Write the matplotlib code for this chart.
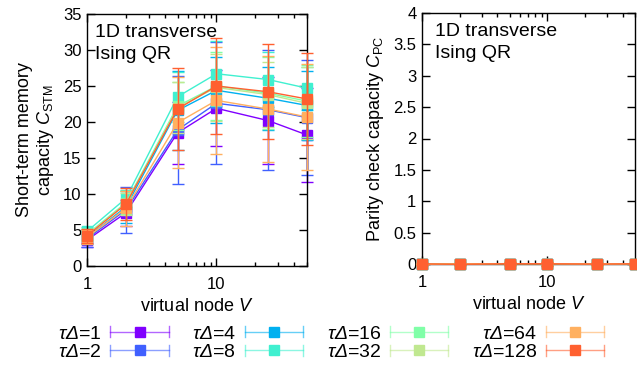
import numpy as np
import matplotlib
matplotlib.use('Agg')
import matplotlib.pyplot as plt
from matplotlib.lines import Line2D
from matplotlib.legend_handler import HandlerBase
from matplotlib.ticker import LogLocator, FuncFormatter, MultipleLocator

plt.rcParams['font.family'] = ['Liberation Sans', 'DejaVu Sans']
plt.rcParams['mathtext.fontset'] = 'custom'
plt.rcParams['mathtext.rm'] = 'Liberation Sans'
plt.rcParams['mathtext.it'] = 'Liberation Sans:italic'
# italic greek for the key labels (mathit forces capitals upright)
plt.rcParams['mathtext.sf'] = 'Liberation Sans:italic'

# virtual nodes
V = [1, 2, 5, 10, 25, 50]
tau = [1, 2, 4, 8, 16, 32, 64, 128]
colors = ['#8000ff', '#4060ff', '#00b0f0', '#40f0d0',
          '#80ffa8', '#c0e890', '#ffb060', '#ff6030']

# short-term memory capacity (mean, error) per tau
stm_mean = [[3.6, 7.4, 18.5, 21.9, 20.2, 18.2],
            [3.8, 7.8, 18.9, 22.6, 21.7, 20.6],
            [4.0, 8.2, 21.6, 24.4, 23.3, 22.3],
            [4.8, 9.4, 23.5, 26.7, 25.9, 24.7],
            [4.4, 8.8, 22.2, 25.0, 24.0, 22.9],
            [4.3, 8.6, 22.0, 24.8, 23.8, 22.6],
            [4.0, 8.0, 19.9, 23.0, 21.8, 20.7],
            [4.2, 8.6, 21.8, 25.0, 24.2, 23.2]]
stm_err = [[0.9, 1.8, 4.3, 5.3, 6.1, 6.5],
           [1.2, 3.2, 7.5, 8.5, 8.3, 8.0],
           [0.9, 2.2, 5.5, 4.6, 4.4, 4.8],
           [0.6, 1.2, 3.5, 4.5, 3.8, 3.0],
           [0.8, 1.6, 3.3, 4.7, 5.0, 5.0],
           [0.8, 1.5, 3.5, 4.6, 4.5, 5.0],
           [1.0, 2.4, 6.3, 7.4, 7.3, 7.3],
           [1.0, 2.2, 5.7, 6.6, 6.6, 6.4]]

# parity check capacity (mean, error) per tau
pc_mean = [[0.001, 0.002, 0.004, 0.003, 0.002, 0.002],
           [0.002, 0.001, 0.003, 0.004, 0.001, 0.003],
           [0.001, 0.002, 0.005, 0.003, 0.002, 0.002],
           [0.003, 0.002, 0.004, 0.005, 0.002, 0.003],
           [0.004, 0.003, 0.006, 0.004, -0.004, 0.005],
           [0.002, 0.001, 0.004, 0.003, -0.003, 0.002],
           [-0.005, 0.002, 0.005, 0.004, 0.002, 0.003],
           [0.002, -0.004, 0.004, 0.003, -0.002, 0.003]]
pc_err = [[0.01, 0.01, 0.02, 0.02, 0.02, 0.02],
          [0.01, 0.01, 0.02, 0.02, 0.02, 0.02],
          [0.01, 0.01, 0.02, 0.02, 0.02, 0.02],
          [0.01, 0.01, 0.02, 0.02, 0.02, 0.02],
          [0.01, 0.01, 0.02, 0.02, 0.02, 0.02],
          [0.01, 0.01, 0.02, 0.02, 0.02, 0.02],
          [0.01, 0.01, 0.02, 0.03, 0.02, 0.02],
          [0.01, 0.01, 0.02, 0.03, 0.02, 0.02]]


class ErrHandler(HandlerBase):
    # gnuplot-like key sample: horizontal bar with caps and a square
    def create_artists(self, legend, orig_handle, xdescent, ydescent,
                       width, height, fontsize, trans):
        c = orig_handle.get_color()
        x0, x1 = -xdescent, width - xdescent
        y = (height - ydescent) / 2
        cap = 4
        arts = [Line2D([x0, x1], [y, y], color=c, lw=1, alpha=0.6),
                Line2D([x0, x0], [y - cap, y + cap], color=c, lw=1, alpha=0.6),
                Line2D([x1, x1], [y - cap, y + cap], color=c, lw=1, alpha=0.6),
                Line2D([(x0 + x1) / 2], [y], marker='s', ms=7.2, color=c, ls='none')]
        for a in arts:
            a.set_transform(trans)
        return arts


fig = plt.figure(figsize=(6.37, 3.67), dpi=100)
ax1 = fig.add_axes([87 / 637, 1 - 266 / 367, 220 / 637, 252 / 367])
ax2 = fig.add_axes([422 / 637, 1 - 264 / 367, 213 / 637, 251 / 367])


def draw(ax, means, errs, tx):
    for i in range(len(tau)):
        ax.errorbar(V, means[i], yerr=errs[i], color=colors[i], lw=1,
                    elinewidth=1, capsize=4, capthick=1, marker='s', ms=7,
                    clip_on=False, zorder=2 + i * 0.1)
    ax.set_xscale('log')
    ax.set_xlim(1, 50)
    ax.set_xticks([1, 10])
    ax.set_xticklabels(['1', '10'])
    ax.xaxis.set_minor_locator(LogLocator(base=10, subs=np.arange(2, 10)))
    ax.xaxis.set_minor_formatter(FuncFormatter(lambda v, p: ''))
    ax.tick_params(which='both', direction='in', top=True, right=True,
                   labelsize=12, width=1)
    ax.tick_params(which='major', length=6, pad=4)
    ax.tick_params(axis='x', which='major', pad=8)
    ax.tick_params(which='minor', length=3)
    for s in ax.spines.values():
        s.set_linewidth(1)
    ax.set_xlabel('virtual node $V$', fontsize=13, labelpad=4)
    ax.text(tx, 0.96, '1D transverse\nIsing QR', transform=ax.transAxes,
            ha='left', va='top', fontsize=14, linespacing=1.4)


draw(ax1, stm_mean, stm_err, 8 / 220)
ax1.set_ylim(0, 35)
ax1.yaxis.set_major_locator(MultipleLocator(5))
ax1.set_ylabel('Short-term memory\ncapacity $C_{\\mathrm{STM}}$', fontsize=13,
               labelpad=5, linespacing=1.1)

draw(ax2, pc_mean, pc_err, 13 / 213)
ax2.set_ylim(0, 4)
ax2.yaxis.set_major_locator(MultipleLocator(0.5))
ax2.yaxis.set_major_formatter(FuncFormatter(lambda v, p: '%g' % v))
ax2.set_ylabel('Parity check capacity $C_{\\mathrm{PC}}$', fontsize=13,
               labelpad=5)

handles = [Line2D([], [], color=c) for c in colors]
labels = ['$\\mathsf{τΔ}$=%d' % t for t in tau]
fig.legend(handles, labels, handler_map={Line2D: ErrHandler()}, ncol=4,
           loc='upper left', bbox_to_anchor=(58 / 637, 1 - 325 / 367),
           frameon=False, markerfirst=False, fontsize=14, borderpad=0,
           handlelength=3.0, handletextpad=0.45, columnspacing=1.2,
           labelspacing=0.05, borderaxespad=0)

fig.savefig('out.png', dpi=100)
